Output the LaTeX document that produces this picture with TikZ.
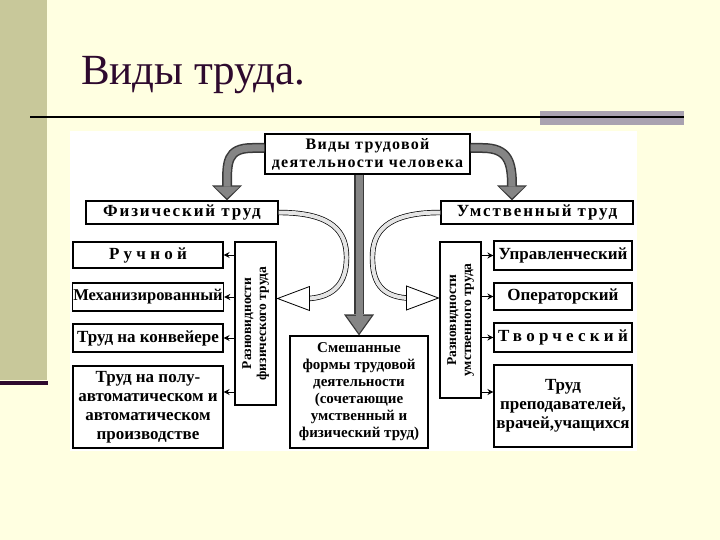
\documentclass[tikz,border=0pt]{standalone}
\usepackage{graphicx}
\usepackage{fontspec}
\setmainfont{Liberation Serif}
\newfontfamily\hdrfont{Liberation Serif}[LetterSpace=11]
\newfontfamily\midfont{Liberation Serif}[LetterSpace=8]
\newfontfamily\spfont{Liberation Serif}[LetterSpace=25]
\usetikzlibrary{arrows.meta,calc}

\definecolor{slidebg}{HTML}{FFFFE1}
\definecolor{strip}{HTML}{C8C89A}
\definecolor{plum}{HTML}{2E0A2E}
\definecolor{bargray}{HTML}{A9A2B0}
\definecolor{arrgray}{HTML}{858585}
\definecolor{arredge}{HTML}{3A3A3A}

\tikzset{
  box/.style={draw=black, line width=1.1pt, fill=white, inner sep=1pt, align=center,
    font=\bfseries\fontsize{17}{19}\selectfont},
  vbox/.style={box, font=\bfseries\fontsize{13.5}{15}\selectfont},
  grayout/.style={line width=10pt, draw=arredge, -{Triangle[width=30pt,length=15pt,line width=0pt]}},
  grayin/.style={line width=7pt, draw=arrgray, shorten >=2.2pt, -{Triangle[width=25pt,length=11.5pt,line width=0pt]}},
  hollow/.style={draw=black, line width=0.7pt, double=black!10, double distance=4pt},
  smallarr/.style={line width=1pt, -{Stealth[length=6pt,width=6pt]}}
}

\begin{document}
\begin{tikzpicture}[x=1pt, y=-1pt]
  % Фон слайда
  \fill[slidebg] (0,0) rectangle (720,540);
  \useasboundingbox (0,0) rectangle (720,540);
  \fill[strip] (0,0) rectangle (47,380);
  \fill[plum] (0,381) rectangle (48,385);
  \fill[bargray] (540,111) rectangle (684,125);
  \draw[line width=2pt] (30,117) -- (684,117);
  \node[anchor=base west, inner sep=0, text=plum, font=\fontsize{43}{47}\selectfont] (title) at (81,85) {Виды труда.};

  % Поле схемы
  \fill[white] (70,131) rectangle (637,451);

  % Блоки
  \node[box, minimum width=205pt, minimum height=40pt, font=\bfseries\fontsize{16}{18}\selectfont] (top) at (367.5,154) {\midfont Виды трудовой\\\midfont деятельности человека};
  \node[box, minimum width=192pt, minimum height=23pt] (fiz) at (182,212.5) {\hdrfont Физический труд};
  \node[box, minimum width=192pt, minimum height=23pt] (umst) at (537,212.5) {\hdrfont Умственный труд};

  \node[vbox, minimum width=41pt, minimum height=163pt] (vfiz) at (255.5,323.5)
    {\rotatebox{90}{\begin{tabular}{@{}c@{}}Разновидности\\физического труда\end{tabular}}};
  \node[vbox, minimum width=41pt, minimum height=156pt] (vumst) at (460.5,320)
    {\rotatebox{90}{\begin{tabular}{@{}c@{}}Разновидности\\умственного труда\end{tabular}}};

  \node[box, minimum width=150pt, minimum height=26pt] (p1) at (148,255) {\spfont Ручной};
  \node[box, minimum width=150pt, minimum height=28pt, font=\bfseries\fontsize{16.5}{19}\selectfont] (p2) at (148,297) {Механизированный};
  \node[box, minimum width=150pt, minimum height=28pt] (p3) at (148,338) {Труд на конвейере};
  \node[box, minimum width=150pt, minimum height=82pt] (p4) at (148,407)
    {Труд на полу-\\автоматическом и\\автоматическом\\производстве};

  \node[box, minimum width=138pt, minimum height=29pt] (u1) at (563,255.5) {Управленческий};
  \node[box, minimum width=138pt, minimum height=27pt] (u2) at (563,296.5) {Операторский};
  \node[box, minimum width=138pt, minimum height=29pt] (u3) at (563,337.5) {\spfont Творческий};
  \node[box, minimum width=138pt, minimum height=82pt] (u4) at (563,406)
    {Труд\\преподавателей,\\врачей,учащихся};

  \node[box, minimum width=138pt, minimum height=112pt, font=\bfseries\fontsize{15}{17}\selectfont] (mix) at (359,392)
    {Смешанные\\формы трудовой\\деятельности\\(сочетающие\\умственный и\\физический труд)};

  % Серые стрелки
  \draw[grayout] ($(top.west)+(0,-6)$) -- ++(-12,0) .. controls +(-26,0) and +(0,-24) .. ($(fiz.north)+(45,-14)$) -- ($(fiz.north)+(45,0)$);
  \draw[grayin] ($(top.west)+(0,-6)$) -- ++(-12,0) .. controls +(-26,0) and +(0,-24) .. ($(fiz.north)+(45,-14)$) -- ($(fiz.north)+(45,0)$);
  \draw[grayout] ($(top.east)+(0,-6)$) -- ++(12,0) .. controls +(26,0) and +(0,-24) .. ($(umst.north)+(-25,-14)$) -- ($(umst.north)+(-25,0)$);
  \draw[grayin] ($(top.east)+(0,-6)$) -- ++(12,0) .. controls +(26,0) and +(0,-24) .. ($(umst.north)+(-25,-14)$) -- ($(umst.north)+(-25,0)$);
  \draw[grayout, -{Triangle[width=30pt,length=21pt,line width=0pt]}] (top.south -| mix.north) -- (mix.north);
  \draw[grayin, -{Triangle[width=25pt,length=17.5pt,line width=0pt]}] (top.south -| mix.north) -- (mix.north);

  % Полые стрелки
  \coordinate (ltip) at ($(vfiz.east)+(1,-25)$);
  \coordinate (lbase) at ($(ltip)+(32,0)$);
  \coordinate (lmid) at ($(fiz.east)+(68,45)$);
  \draw[hollow] (fiz.east) .. controls +(55,0) and +(0,-25) .. (lmid) .. controls +(0,25) and +(25,-2) .. (lbase);
  \filldraw[fill=white, line width=0.8pt] (ltip) -- ++(32,-12) -- ++(0,24) -- cycle;

  \coordinate (rtip) at ($(vumst.west)+(-1,-22)$);
  \coordinate (rbase) at ($(rtip)+(-32,0)$);
  \coordinate (rmid) at ($(umst.west)+(-68,45)$);
  \draw[hollow] (umst.west) .. controls +(-55,0) and +(0,-25) .. (rmid) .. controls +(0,25) and +(-25,-2) .. (rbase);
  \filldraw[fill=white, line width=0.8pt] (rtip) -- ++(-32,-12) -- ++(0,24) -- cycle;

  % Короткие стрелки
  \coordinate (p4e) at ($(p4.east)+(0,-15)$);
  \coordinate (u4w) at ($(u4.west)+(0,-14)$);
  \foreach \n in {p1,p2,p3,p4e} \draw[smallarr] (vfiz.west |- \n) -- (\n);
  \foreach \n in {u1,u2,u3} \draw[smallarr] (vumst.east |- \n.west) -- (\n.west);
  \draw[smallarr] (vumst.east |- u4w) -- (u4w);
\end{tikzpicture}
\end{document}
